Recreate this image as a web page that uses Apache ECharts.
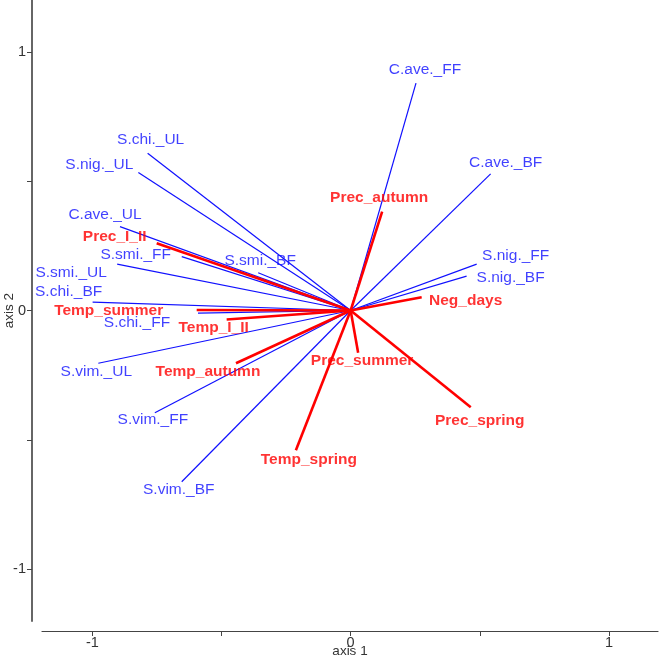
<!DOCTYPE html>
<html>
<head>
  <meta charset="utf-8">
  <title>Biplot</title>
  <script src="https://cdn.jsdelivr.net/npm/echarts@6/dist/echarts.min.js"></script>
  <style>
    html, body { margin: 0; padding: 0; background: #fff; }
  </style>
</head>
<body>
  <div id="main" style="width: 662px;height:660px;"></div>

  <script>
    // species vectors (blue)
    const speciesNames = ["C.ave._FF", "C.ave._BF", "S.nig._FF", "S.nig._BF", "S.chi._UL", "S.nig._UL",
      "C.ave._UL", "S.smi._FF", "S.smi._BF", "S.smi._UL", "S.chi._BF", "S.chi._FF",
      "S.vim._UL", "S.vim._FF", "S.vim._BF"];
    const speciesX = [0.253, 0.542, 0.488, 0.449, -0.786, -0.822, -0.893, -0.654, -0.358, -0.904, -0.999, -0.591, -0.977, -0.758, -0.654];
    const speciesY = [0.879, 0.528, 0.179, 0.133, 0.608, 0.533, 0.324, 0.208, 0.146, 0.179, 0.032, -0.010, -0.204, -0.395, -0.662];

    // environmental vectors (red)
    const envNames = ["Prec_autumn", "Neg_days", "Prec_summer", "Prec_spring", "Temp_spring",
      "Temp_autumn", "Temp_I_II", "Temp_summer", "Prec_I_II"];
    const envX = [0.122, 0.275, 0.029, 0.465, -0.212, -0.444, -0.480, -0.596, -0.751];
    const envY = [0.382, 0.051, -0.163, -0.374, -0.540, -0.204, -0.035, 0.002, 0.260];

    const tickValues = [-1, -0.5, 0, 0.5, 1];
    const tickLabels = [-1, 0, 1];

    // label offsets from the arrow tip, in pixels
    const speciesLabelOffsets = [[9, -13], [15, -11], [39, -8], [44, 2], [3, -13], [-39, -8],
      [-15, -12], [-46, -2], [2, -12], [-46, 9], [-24, -11], [-61, 10],
      [-2, 8], [-2, 7], [-3, 8]];
    const envLabelOffsets = [[-3, -14], [44, 3], [4, 8], [9, 13], [13, 9],
      [-28, 8], [-13, 8], [-88, 1], [-42, -7]];

    const BLUE = "#1010ff";
    const RED = "#ff0000";
    const FONT = "Liberation Sans";

    function vectors(xs, ys) {
      return xs.map((x, i) => ({ coords: [[0, 0], [x, ys[i]]] }));
    }

    function tips(names, xs, ys, offsets) {
      return names.map((n, i) => ({
        name: n,
        value: [xs[i], ys[i]],
        label: { offset: offsets[i] }
      }));
    }

    const chart = echarts.init(document.getElementById("main"));
    const option = {
      animation: false,
      grid: { left: 42, right: 4, top: 0, bottom: 39, containLabel: false, outerBoundsMode: "none" },
      xAxis: {
        type: "value",
        min: -1.195, max: 1.19,
        offset: 10,
        name: "axis 1",
        nameLocation: "middle",
        nameGap: 13,
        nameMoveOverlap: false,
        nameTextStyle: { fontSize: 13.5, color: "#333", fontFamily: FONT },
        splitLine: { show: false },
        axisLine: { show: true, onZero: false, lineStyle: { color: "#444", width: 1.2 } },
        axisTick: { show: true, length: 5, customValues: tickValues, lineStyle: { color: "#444" } },
        axisLabel: { customValues: tickLabels, margin: 4, fontSize: 14.5, color: "#333", fontFamily: FONT }
      },
      yAxis: {
        type: "value",
        min: -1.2, max: 1.2,
        offset: 10,
        name: "axis 2",
        nameLocation: "middle",
        nameGap: 16,
        nameMoveOverlap: false,
        nameTextStyle: { fontSize: 13.5, color: "#333", fontFamily: FONT },
        splitLine: { show: false },
        axisLine: { show: true, onZero: false, lineStyle: { color: "#666", width: 2 } },
        axisTick: { show: true, length: 5, customValues: tickValues, lineStyle: { color: "#444" } },
        axisLabel: { customValues: tickLabels, margin: 6, fontSize: 14.5, color: "#333", fontFamily: FONT }
      },
      series: [
        {
          type: "lines",
          coordinateSystem: "cartesian2d",
          silent: true,
          lineStyle: { color: BLUE, width: 1.2, opacity: 1 },
          data: vectors(speciesX, speciesY)
        },
        {
          type: "lines",
          coordinateSystem: "cartesian2d",
          silent: true,
          lineStyle: { color: RED, width: 2.6, opacity: 1 },
          data: vectors(envX, envY)
        },
        {
          type: "scatter",
          symbolSize: 0,
          silent: true,
          label: {
            show: true, position: "inside", formatter: "{b}",
            color: BLUE, fontSize: 15.5, fontFamily: FONT
          },
          data: tips(speciesNames, speciesX, speciesY, speciesLabelOffsets)
        },
        {
          type: "scatter",
          symbolSize: 0,
          silent: true,
          label: {
            show: true, position: "inside", formatter: "{b}",
            color: RED, fontSize: 15.5, fontWeight: "bold", fontFamily: FONT
          },
          data: tips(envNames, envX, envY, envLabelOffsets)
        }
      ]
    };
    chart.setOption(option);
  </script>
</body>
</html>
